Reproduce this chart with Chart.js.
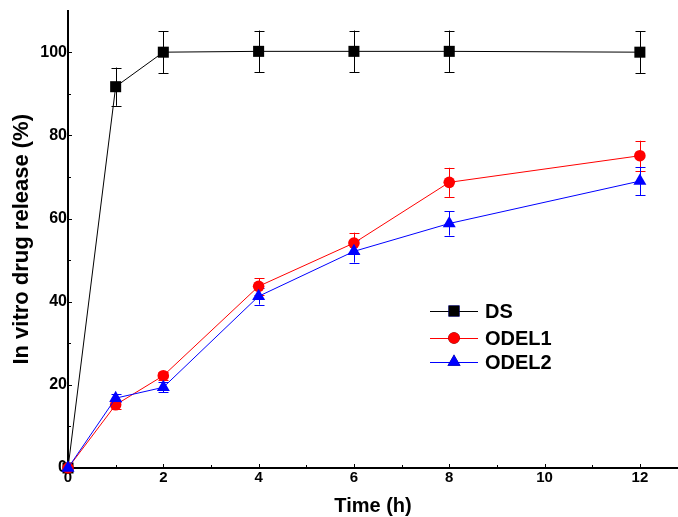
<!DOCTYPE html>
<html>
<head>
<meta charset="utf-8">
<script src="https://cdn.jsdelivr.net/npm/chart.js@4.4.0/dist/chart.umd.min.js"></script>
<style>
  html, body { margin: 0; padding: 0; background: #fff; }
  canvas { display: block; }
</style>
</head>
<body>
<canvas id="releaseChart" width="678" height="517"></canvas>
<script>
// data
const timeH = [0, 1, 2, 4, 6, 8, 12];
const dsVals = [0, 91.7, 100, 100.2, 100.2, 100.2, 100];
const dsErr = [0, 4.6, 5, 5, 5, 5, 5];
const odel1Vals = [0, 15.2, 22.2, 43.7, 54.1, 68.7, 75.1];
const odel1Err = [0, 1, 1, 2, 2.5, 3.5, 3.6];
const odel2Vals = [0, 16.8, 19.4, 41.3, 52.1, 58.8, 69];
const odel2Err = [0, 1, 1.2, 2, 2.7, 2.9, 3.4];
const xTicks = [0, 2, 4, 6, 8, 10, 12];
const yTicks = [0, 20, 40, 60, 80, 100];
const seriesNames = ['DS', 'ODEL1', 'ODEL2'];

const FONT = '"Liberation Sans", Arial, sans-serif';

function pts(vals) {
    return timeH.map((t, i) => ({x: t, y: vals[i]}));
}

// error bars drawn under the markers
const errorBars = {
    id: 'errorBars',
    beforeDatasetsDraw(chart) {
        const ctx = chart.ctx;
        const xs = chart.scales.x, ys = chart.scales.y;
        chart.data.datasets.forEach(ds => {
            ctx.save();
            ctx.strokeStyle = ds.borderColor;
            ctx.lineWidth = 1;
            ds.data.forEach((p, i) => {
                const e = ds.errors[i];
                if (!e) return;
                const px = Math.round(xs.getPixelForValue(p.x)) + 0.5;
                const top = ys.getPixelForValue(p.y + e);
                const bot = ys.getPixelForValue(p.y - e);
                ctx.beginPath();
                ctx.moveTo(px, top); ctx.lineTo(px, bot);
                ctx.moveTo(px - 5, Math.round(top) + 0.5); ctx.lineTo(px + 5, Math.round(top) + 0.5);
                ctx.moveTo(px - 5, Math.round(bot) + 0.5); ctx.lineTo(px + 5, Math.round(bot) + 0.5);
                ctx.stroke();
            });
            ctx.restore();
        });
    }
};

// inward major/minor ticks
const innerTicks = {
    id: 'innerTicks',
    afterDraw(chart) {
        const ctx = chart.ctx;
        const xs = chart.scales.x, ys = chart.scales.y;
        const a = chart.chartArea;
        ctx.save();
        ctx.strokeStyle = '#000';
        ctx.lineWidth = 1;
        ctx.beginPath();
        for (let v = 1; v <= 12; v++) {
            const px = Math.round(xs.getPixelForValue(v)) + 0.5;
            const len = v % 2 === 0 ? 4 : 3;
            ctx.moveTo(px, a.bottom); ctx.lineTo(px, a.bottom - len);
        }
        for (let v = 10; v <= 100; v += 10) {
            const py = Math.round(ys.getPixelForValue(v)) + 0.5;
            const len = v % 20 === 0 ? 4 : 3;
            ctx.moveTo(a.left, py); ctx.lineTo(a.left + len, py);
        }
        ctx.stroke();
        ctx.restore();
    }
};

// legend inside the plot
const insideLegend = {
    id: 'insideLegend',
    afterDraw(chart) {
        const ctx = chart.ctx;
        const rows = [311, 338, 362];
        ctx.save();
        chart.data.datasets.forEach((ds, i) => {
            const y = rows[i];
            ctx.strokeStyle = ds.borderColor;
            ctx.lineWidth = 1;
            ctx.beginPath();
            ctx.moveTo(430, y + 0.5); ctx.lineTo(478, y + 0.5);
            ctx.stroke();
            Chart.helpers.drawPoint(ctx, {
                pointStyle: ds.pointStyle, radius: ds.pointRadius, borderWidth: 0
            }, 454, y);
            ctx.fillStyle = ds.backgroundColor;
            ctx.fill();
            ctx.fillStyle = '#000';
            ctx.font = 'bold 20px ' + FONT;
            ctx.textAlign = 'left';
            ctx.textBaseline = 'middle';
            ctx.fillText(seriesNames[i], 485, y + 1);
        });
        ctx.restore();
    }
};

const ctx = document.getElementById('releaseChart').getContext('2d');
new Chart(ctx, {
    type: 'line',
    data: {
        datasets: [
            {
                label: seriesNames[0], data: pts(dsVals), errors: dsErr,
                borderColor: '#000', backgroundColor: '#000',
                pointStyle: 'rect', pointRadius: 7.8, borderWidth: 1,
                pointBorderWidth: 0, order: 2
            },
            {
                label: seriesNames[1], data: pts(odel1Vals), errors: odel1Err,
                borderColor: '#ff0000', backgroundColor: '#ff0000',
                pointStyle: 'circle', pointRadius: 5.8, borderWidth: 1,
                pointBorderWidth: 0, order: 1
            },
            {
                label: seriesNames[2], data: pts(odel2Vals), errors: odel2Err,
                borderColor: '#0000ff', backgroundColor: '#0000ff',
                pointStyle: 'triangle', pointRadius: 7.5, borderWidth: 1,
                pointBorderWidth: 0, order: 0
            }
        ]
    },
    options: {
        responsive: false,
        animation: false,
        clip: false,
        layout: { autoPadding: false, padding: { top: 10, right: 0, left: 0, bottom: 0 } },
        plugins: {
            legend: { display: false },
            tooltip: { enabled: false }
        },
        scales: {
            x: {
                type: 'linear',
                min: 0,
                max: 12.8,
                afterBuildTicks: s => { s.ticks = xTicks.map(v => ({value: v})); },
                afterFit: s => { s.height = 49; },
                grid: { display: false, drawTicks: false },
                border: { display: true, color: '#000', width: 2 },
                ticks: {
                    color: '#000', padding: 1, maxRotation: 0,
                    font: { family: FONT, size: 15, weight: 'bold' }
                },
                title: {
                    display: true, text: 'Time (h)', color: '#000',
                    padding: { top: 0, bottom: 1 },
                    font: { family: FONT, size: 20, weight: 'bold', lineHeight: 1 }
                }
            },
            y: {
                type: 'linear',
                min: 0,
                max: 110,
                afterBuildTicks: s => { s.ticks = yTicks.map(v => ({value: v})); },
                afterFit: s => { s.width = 68; },
                grid: { display: false, drawTicks: false },
                border: { display: true, color: '#000', width: 2 },
                ticks: {
                    color: '#000', padding: 1,
                    font: { family: FONT, size: 16, weight: 'bold' }
                },
                title: {
                    display: true, text: 'In vitro drug release (%)', color: '#000',
                    padding: { top: 11, bottom: 0 },
                    font: { family: FONT, size: 22, weight: 'bold', lineHeight: 1 }
                }
            }
        }
    },
    plugins: [errorBars, innerTicks, insideLegend]
});
</script>
</body>
</html>
